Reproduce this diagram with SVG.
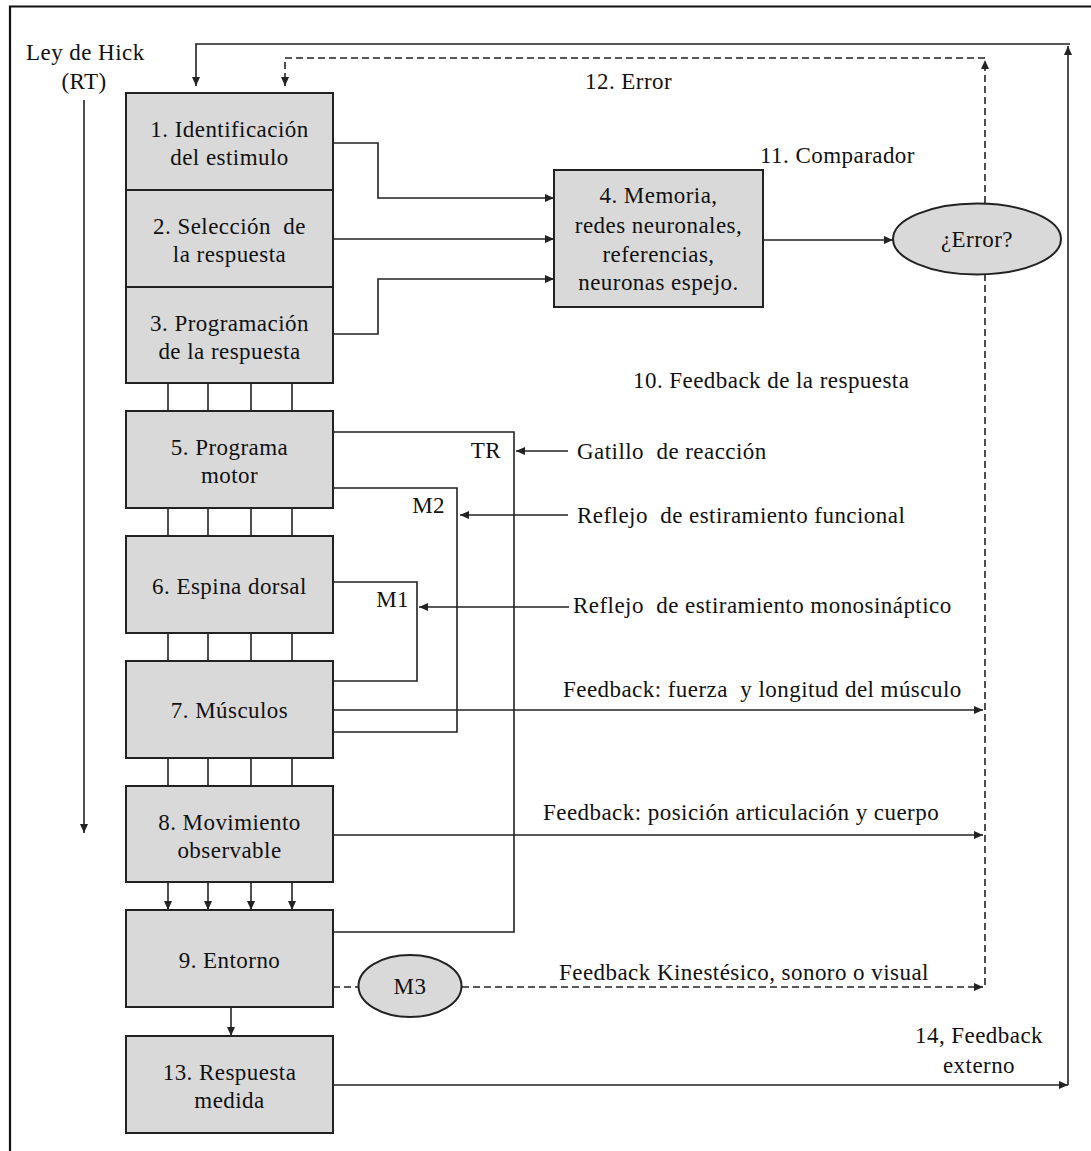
<svg xmlns="http://www.w3.org/2000/svg" width="1091" height="1151" viewBox="0 0 1091 1151">
<style>
text{font-family:"Liberation Serif","Times New Roman",serif;font-size:23px;fill:#111;letter-spacing:0.45px}
.p{white-space:pre}
.c{text-anchor:middle}
.e{text-anchor:end}
.box{fill:#d9d9d9;stroke:#222;stroke-width:2}
.ln{fill:none;stroke:#222;stroke-width:1.6}
.dl{fill:none;stroke:#222;stroke-width:1.6;stroke-dasharray:7 4}
.arr{marker-end:url(#ah)}
</style>
<defs>
<marker id="ah" markerWidth="9" markerHeight="8" refX="9" refY="4" orient="auto" markerUnits="userSpaceOnUse">
<path d="M0,0 L9,4 L0,8 z" fill="#222" stroke="none"/>
</marker>
</defs>
<rect x="0" y="0" width="1091" height="1151" fill="#fff"/>
<path d="M10,1151 V6.5 H1091" fill="none" stroke="#111" stroke-width="2.2"/>

<g id="connectors">
<path class="ln arr" d="M84,100 V833"/>
<path class="ln arr" d="M333,1085 H1068"/>
<path class="ln arr" d="M1068,1085 V46"/>
<path class="ln arr" d="M1070,44 H196 V86"/>
<path class="dl arr" d="M985,203 V60"/>
<path class="dl arr" d="M985,58 H285 V86"/>
<path class="dl" d="M985,274 V987"/>
<path class="ln arr" d="M333,143 H378 V198 H554"/>
<path class="ln arr" d="M333,239 H554"/>
<path class="ln arr" d="M333,334 H378 V279 H554"/>
<path class="ln arr" d="M763,240 H893"/>
<path class="ln" d="M168,383 V411 M208,383 V411 M251,383 V411 M292,383 V411"/>
<path class="ln" d="M168,508 V536 M208,508 V536 M251,508 V536 M292,508 V536"/>
<path class="ln" d="M168,633 V661 M208,633 V661 M251,633 V661 M292,633 V661"/>
<path class="ln" d="M168,758 V786 M208,758 V786 M251,758 V786 M292,758 V786"/>
<path class="ln arr" d="M168,882 V910"/>
<path class="ln arr" d="M208,882 V910"/>
<path class="ln arr" d="M251,882 V910"/>
<path class="ln arr" d="M292,882 V910"/>
<path class="ln arr" d="M231,1007 V1036"/>
<path class="ln" d="M333,432 H514 V932 H333"/>
<path class="ln" d="M333,488 H457 V732 H333"/>
<path class="ln" d="M333,582 H417 V681 H333"/>
<path class="ln arr" d="M568,451 H516"/>
<path class="ln arr" d="M568,515 H460"/>
<path class="ln arr" d="M569,607 H419"/>
<path class="ln arr" d="M333,710 H983"/>
<path class="ln arr" d="M333,835 H983"/>
<path class="dl" d="M333,987 H358"/>
<path class="dl arr" d="M462,987 H983"/>
</g>

<g id="n1"><rect class="box" x="126" y="93" width="207" height="97"/>
<text class="c" x="229.5" y="137">1. Identificación</text><text class="c" x="229.5" y="165">del estimulo</text></g>
<g id="n2"><rect class="box" x="126" y="190" width="207" height="97"/>
<text class="c p" x="229.5" y="234" xml:space="preserve">2. Selección  de</text><text class="c" x="229.5" y="262">la respuesta</text></g>
<g id="n3"><rect class="box" x="126" y="287" width="207" height="96"/>
<text class="c" x="229.5" y="330.5">3. Programación</text><text class="c" x="229.5" y="358.5">de la respuesta</text></g>
<g id="n4"><rect class="box" x="554" y="170" width="209" height="137"/>
<text class="c" x="658.5" y="203">4. Memoria,</text><text class="c" x="658.5" y="233">redes neuronales,</text><text class="c" x="658.5" y="262">referencias,</text><text class="c" x="658.5" y="290">neuronas espejo.</text></g>
<g id="n5"><rect class="box" x="126" y="411" width="207" height="97"/>
<text class="c" x="229.5" y="455">5. Programa</text><text class="c" x="229.5" y="483">motor</text></g>
<g id="n6"><rect class="box" x="126" y="536" width="207" height="97"/>
<text class="c" x="229.5" y="594">6. Espina dorsal</text></g>
<g id="n7"><rect class="box" x="126" y="661" width="207" height="97"/>
<text class="c" x="229.5" y="718">7. Músculos</text></g>
<g id="n8"><rect class="box" x="126" y="786" width="207" height="96"/>
<text class="c" x="229.5" y="829.5">8. Movimiento</text><text class="c" x="229.5" y="857.5">observable</text></g>
<g id="n9"><rect class="box" x="126" y="910" width="207" height="97"/>
<text class="c" x="229.5" y="967.5">9. Entorno</text></g>
<g id="n13"><rect class="box" x="126" y="1036" width="207" height="97"/>
<text class="c" x="229.5" y="1080">13. Respuesta</text><text class="c" x="229.5" y="1108">medida</text></g>
<g id="nerr"><ellipse cx="977" cy="239" rx="84" ry="35.5" fill="#d9d9d9" stroke="#222" stroke-width="2"/>
<text class="c" x="977" y="247">¿Error?</text></g>
<g id="nm3"><ellipse cx="410" cy="986" rx="51.5" ry="31" fill="#d9d9d9" stroke="#222" stroke-width="2"/>
<text class="c" x="410" y="994">M3</text></g>

<g id="labels">
<text x="26" y="60">Ley de Hick</text>
<text class="c" x="84" y="89">(RT)</text>
<text x="585" y="89">12. Error</text>
<text x="760" y="163">11. Comparador</text>
<text x="633" y="388">10. Feedback de la respuesta</text>
<text class="e" x="501" y="458">TR</text>
<text class="e" x="445" y="513">M2</text>
<text class="e" x="409" y="607">M1</text>
<text class="p" x="577" y="459" xml:space="preserve">Gatillo  de reacción</text>
<text class="p" x="577" y="523" xml:space="preserve">Reflejo  de estiramiento funcional</text>
<text class="p" x="573" y="613" xml:space="preserve">Reflejo  de estiramiento monosináptico</text>
<text class="p" x="563" y="697" xml:space="preserve">Feedback: fuerza  y longitud del músculo</text>
<text x="543" y="820">Feedback: posición articulación y cuerpo</text>
<text x="559" y="980">Feedback Kinestésico, sonoro o visual</text>
<text class="c" x="979" y="1043">14, Feedback</text>
<text class="c" x="979" y="1073">externo</text>
</g>
</svg>
